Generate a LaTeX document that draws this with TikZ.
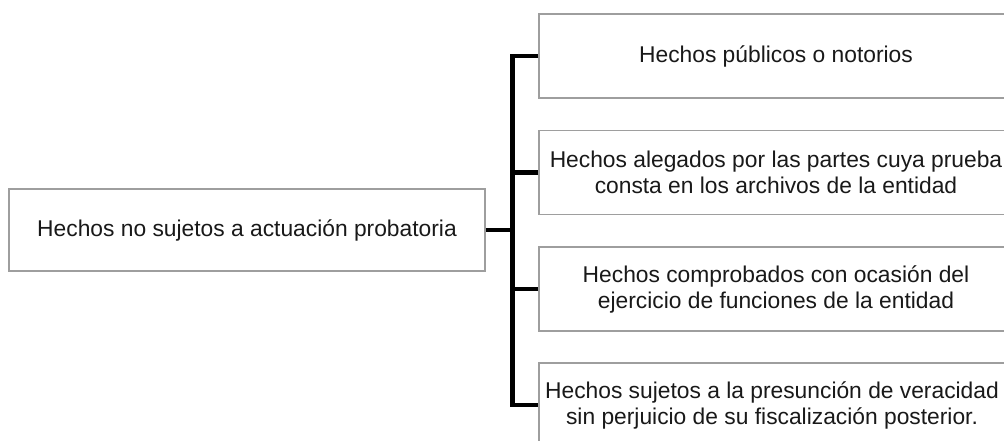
\documentclass[tikz,border=0pt]{standalone}
\usepackage{fontspec}
\setmainfont{Liberation Sans}
\begin{document}
\begin{tikzpicture}[x=0.75pt,y=-0.75pt,
  box/.style={draw=black!38, line width=0.8pt, fill=white, inner sep=0pt},
  label/.style={align=center, inner sep=0pt,
    font=\fontsize{17.1}{19.5}\selectfont, text=black!90},
  leftbox/.style={box, minimum width=357pt, minimum height=61.5pt},
  rightbox/.style={box, minimum width=355.5pt, minimum height=63pt},
  conn/.style={draw=black, line width=3.2pt}]
\path[use as bounding box, clip] (0,0) rectangle (1004,441);

% left box
\node[leftbox] (L) at (247,230) {};
\node[label] (Lt) at (L.center) {Hechos no sujetos a actuación probatoria};

% right boxes
\node[rightbox] (R1) at (776,56) {};
\node[rightbox] (R2) at (776,172.5) {};
\node[rightbox] (R3) at (776,289) {};
\node[rightbox] (R4) at (776,405) {};
\node[label] (R1t) at (R1.center) {Hechos públicos o notorios};
\node[label] (R2t) at (R2.center) {Hechos alegados por las partes cuya prueba\\consta en los archivos de la entidad};
\node[label] (R3t) at (R3.center) {Hechos comprobados con ocasión del\\ejercicio de funciones de la entidad};
\node[label, xshift=-3pt] (R4t) at (R4.center) {Hechos sujetos a la presunción de veracidad\\sin perjuicio de su fiscalización posterior.};

% vertical bus joining the four branches
\coordinate (bus) at (512.5,0);
\draw[conn] (R1.west) -- (R1.west -| bus) -- (R4.west -| bus) -- (R4.west);
\draw[conn] (R2.west) -- (R2.west -| bus);
\draw[conn] (R3.west) -- (R3.west -| bus);
\draw[conn] (L.east) -- (L.east -| bus);
\end{tikzpicture}
\end{document}
